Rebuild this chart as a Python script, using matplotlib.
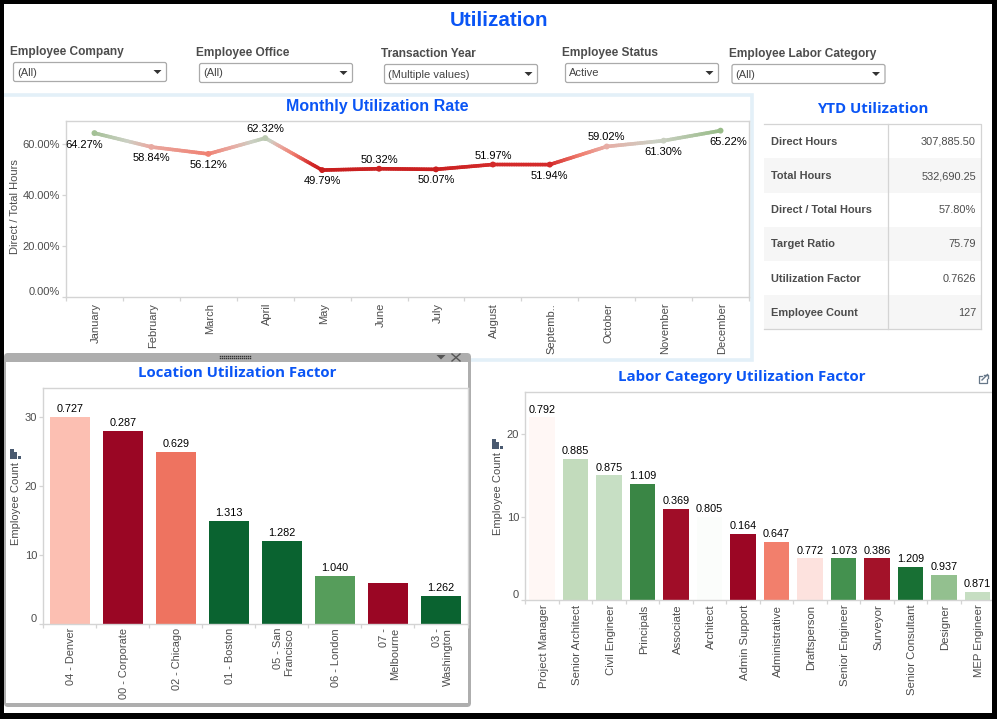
import numpy as np
import matplotlib
matplotlib.use('Agg')
import matplotlib.pyplot as plt
from matplotlib.collections import LineCollection
from matplotlib.colors import LinearSegmentedColormap, Normalize
from matplotlib.patches import Rectangle, FancyBboxPatch, Polygon
from matplotlib.transforms import ScaledTranslation

plt.rcParams['font.family'] = ['Liberation Sans', 'DejaVu Sans']

months = ['January', 'February', 'March', 'April', 'May', 'June', 'July', 'August',
          'Septemb..', 'October', 'November', 'December']
rates = [64.27, 58.84, 56.12, 62.32, 49.79, 50.32, 50.07, 51.97, 51.94, 59.02, 61.30, 65.22]

locations = ['04 - Denver', '00 - Corporate', '02 - Chicago', '01 - Boston',
             '05 - San\nFrancisco', '06 - London', '07 -\nMelbourne', '03 -\nWashington']
location_counts = [30, 28, 25, 15, 12, 7, 6, 4]
location_factors = ['0.727', '0.287', '0.629', '1.313', '1.282', '1.040', '', '1.262']
location_colors = ['#fcbfb2', '#9a0624', '#ee7360', '#0a6330', '#0a6330', '#569d5b', '#9a0624', '#0a6330']

labor = ['Project Manager', 'Senior Architect', 'Civil Engineer', 'Principals', 'Associate',
         'Architect', 'Admin Support', 'Administrative', 'Draftsperson', 'Senior Engineer',
         'Surveyor', 'Senior Consultant', 'Designer', 'MEP Engineer']
labor_counts = [22, 17, 15, 14, 11, 10, 8, 7, 5, 5, 5, 4, 3, 1]
labor_factors = ['0.792', '0.885', '0.875', '1.109', '0.369', '0.805', '0.164', '0.647',
                 '0.772', '1.073', '0.386', '1.209', '0.937', '0.871']
labor_colors = ['#fff7f5', '#c2dbbc', '#c7dfc4', '#3a8645', '#a00d28', '#fbfdfb', '#9b0624', '#f27f6c',
                '#fde2de', '#44914f', '#a31229', '#187034', '#93c08f', '#c6dec2']

ytd_names = ['Direct Hours', 'Total Hours', 'Direct / Total Hours', 'Target Ratio',
             'Utilization Factor', 'Employee Count']
ytd_values = ['307,885.50', '532,690.25', '57.80%', '75.79', '0.7626', '127']

filters = [('Employee Company', '(All)'), ('Employee Office', '(All)'),
           ('Transaction Year', '(Multiple values)'), ('Employee Status', 'Active'),
           ('Employee Labor Category', '(All)')]

# layout in pixels
W, H = 997, 719
BLUE = '#0a55f5'; GREY = '#4c4c4c'; RULE = '#d4d4d4'; TFONT = 'Open Sans'
fig = plt.figure(figsize=(W / 100, H / 100), dpi=100, facecolor='white')


def axpx(x0, y0, x1, y1, z):
    return fig.add_axes([x0 / W, 1 - y1 / H, (x1 - x0) / W, (y1 - y0) / H], zorder=z)


bg = axpx(0, 0, W, H, 0)
bg.set_xlim(0, W); bg.set_ylim(H, 0); bg.axis('off')
top = axpx(0, 0, W, H, 10)
top.set_xlim(0, W); top.set_ylim(H, 0); top.axis('off'); top.patch.set_alpha(0)


def px(a, x0, y0, x1, y1, **kw):
    a.add_patch(Rectangle((x0, y0), x1 - x0, y1 - y0, lw=kw.pop('lw', 0), **kw))


# black border
for r in [(0, 0, W, 4), (0, 713, W, H), (0, 0, 4, H), (992, 0, W, H)]:
    px(top, *r, fc='black')

bg.text(499, 20.5, 'Utilization', color=BLUE, fontsize=14.8, fontweight='bold', ha='center', va='center')

# filters
flt_x = [10, 196, 381, 562, 728.5]
flt_y = [50.5, 51.5, 52.5, 51.5, 52.5]
for (name, val), x, y in zip(filters, flt_x, flt_y):
    bg.text(x, y + 1.3, name, color=GREY, fontsize=8.6, fontweight='bold', ha='left', va='center')
    b0 = x + 3.5; by = y + 12
    bg.add_patch(FancyBboxPatch((b0 + 1, by + 1), 151, 17, boxstyle='round,pad=1,rounding_size=2',
                                fc='white', ec='#aaaaaa', lw=0.9))
    bg.text(b0 + 3.5, by + 10, val, color='#444444', fontsize=8, va='center', ha='left')
    bg.add_patch(Polygon([(b0 + 140, by + 7.5), (b0 + 148, by + 7.5), (b0 + 144, by + 11.5)], fc='#333333'))

# line chart frame
bg.add_patch(Rectangle((1.75, 94.75), 749.75, 264.75, fc='white', ec='#e3f0f8', lw=2.6))
bg.text(377, 106.5, 'Monthly Utilization Rate', color=BLUE, fontsize=11.5, fontweight='bold',
        ha='center', va='center')


def style(ax, xs, labels, lab_size, yt, ylab_fmt, pad=4.0):
    ax.set_xlim(0, len(xs))
    ax.set_xticks(np.arange(len(xs)) + 0.5)
    ax.set_xticklabels(labels, rotation=90, fontsize=lab_size, color=GREY, va='top', ha='center',
                       multialignment='right')
    ax.set_xticks(np.arange(len(xs) + 1), minor=True)
    ax.tick_params(axis='x', which='major', length=0, pad=pad)
    ax.tick_params(axis='x', which='minor', length=3, color=RULE, width=0.9)
    shift = ScaledTranslation(1.5 / 100, 0, fig.dpi_scale_trans)
    for t in ax.get_xticklabels():
        t.set_transform(t.get_transform() + shift)
    ax.set_yticks(yt)
    ax.set_yticklabels([ylab_fmt(v) for v in yt], fontsize=8, color=GREY)
    ax.tick_params(axis='y', length=3, color=RULE, width=0.9, pad=1.5)
    ax.get_yticklabels()[0].set_verticalalignment('bottom')
    for s in ax.spines.values():
        s.set_color(RULE); s.set_linewidth(1.0)


# monthly line
ax1 = axpx(66, 121, 749, 297.3, 2)
style(ax1, months, months, 8, [0, 20, 40, 60], lambda v: f'{v:.2f}%')
ax1.set_ylim(0, 69)
x_m = np.arange(len(months)) + 0.5
nodes = [(49.8, '#c81e1e'), (52, '#d42a2a'), (56, '#f07f70'), (59, '#e8aca4'), (61, '#ccd0c4'), (65.3, '#98bc88')]
lo, hi = nodes[0][0], nodes[-1][0]
cmap = LinearSegmentedColormap.from_list('util', [((v - lo) / (hi - lo), c) for v, c in nodes])
norm = Normalize(lo, hi)
segs, vals = [], []
for i in range(len(months) - 1):
    ts = np.linspace(0, 1, 25)
    xx = x_m[i] + (x_m[i + 1] - x_m[i]) * ts
    yy = rates[i] + (rates[i + 1] - rates[i]) * ts
    for j in range(len(ts) - 1):
        segs.append([(xx[j], yy[j]), (xx[j + 1], yy[j + 1])])
        vals.append((yy[j] + yy[j + 1]) / 2)
ax1.add_collection(LineCollection(segs, colors=cmap(norm(vals)), linewidths=2.6, capstyle='round', zorder=2))
ax1.scatter(x_m, rates, c=cmap(norm(rates)), s=18, zorder=3, lw=0)
offs = [(-10, 12), (0, 11), (0, 11), (0, -9), (0, 11), (0, -9), (0, 11), (0, -9), (0, 11), (0, -9), (0, 11), (8, 11)]
for x, v, (dx, dy) in zip(x_m, rates, offs):
    ax1.annotate(f'{v:.2f}%', (x, v), xytext=(dx * .72, -dy * .72), textcoords='offset points',
                 ha='center', va='center', fontsize=8, color='black', zorder=4, annotation_clip=False)
fig.text(15 / W, 1 - 207 / H, 'Direct / Total Hours', rotation=90, color=GREY, fontsize=8, ha='center', va='center')

# YTD table
bg.text(872.5, 109, 'YTD Utilization', color=BLUE, fontsize=10.8, fontweight='bold', family=TFONT, ha='center', va='center')
tx0, tx1, ty0, ty1, tdiv = 764, 981, 124.3, 329.3, 888.3
rh = (ty1 - ty0) / len(ytd_names)
for i, (n, v) in enumerate(zip(ytd_names, ytd_values)):
    y = ty0 + i * rh
    if i % 2:
        px(bg, tx0, y, tx1, y + rh, fc='#f6f6f6')
    bg.text(770.5, y + rh / 2 + 0.5, n, color=GREY, fontsize=7.9, fontweight='bold', ha='left', va='center')
    bg.text(976, y + rh / 2 + 0.5, v, color=GREY, fontsize=7.9, ha='right', va='center')
bg.plot([tx0, tx1, tx1], [ty0, ty0, ty1], color=RULE, lw=0.9)
bg.plot([tx0, tx1], [ty1, ty1], color=RULE, lw=0.9)
bg.plot([tdiv, tdiv], [ty0, ty1], color=RULE, lw=0.9)


def bars(ax, names, counts, factors, colors, size, yt, ytop, wid, off, pad):
    style(ax, names, names, size, yt, lambda v: f'{v}', pad)
    ax.set_ylim(0, ytop)
    xs = np.arange(len(names)) + 0.5
    ax.bar(xs, counts, width=wid, color=colors, zorder=2)
    for x, c, f in zip(xs, counts, factors):
        ax.annotate(f, (x, c), xytext=(0, off), textcoords='offset points', ha='center', va='center',
                    fontsize=7.8, color='black', annotation_clip=False)


def glyph(x, y):
    for dx, h, w in [(0, 10, 3.5), (4, 7, 3), (8, 3, 3)]:
        px(bg, x + dx, y + 10 - h, x + dx + w, y + 10, fc='#4a5a70')


# location panel
bg.add_patch(FancyBboxPatch((8, 357), 459, 346, boxstyle='round,pad=4,rounding_size=4', fc='#aeaeae', lw=0))
px(bg, 6, 362, 468, 703, fc='white')
px(bg, 4, 707, 471, 713, fc='white')
for gx in np.arange(220, 252, 2):
    for gy in (356, 358):
        bg.plot([gx], [gy], marker='s', ms=1.0, color='#333333', mew=0)
bg.add_patch(Polygon([(436.5, 355), (445.5, 355), (441, 359.5)], fc='#555555'))
bg.plot([452, 460], [354, 361], color='#555555', lw=1)
bg.plot([452, 460], [361, 354], color='#555555', lw=1)
bg.text(237, 373, 'Location Utilization Factor', color=BLUE, fontsize=10.8, fontweight='bold', family=TFONT,
        ha='center', va='center')
ax2 = axpx(43.3, 388.3, 467.5, 624, 2)
bars(ax2, locations, location_counts, location_factors, location_colors, 7.9, [0, 10, 20, 30], 34.2, 0.755, 5.8, 2.8)
glyph(10, 449)
fig.text(16 / W, 1 - 504 / H, 'Employee Count', rotation=90, color=GREY, fontsize=8, ha='center', va='center', zorder=5)

# labor chart
bg.text(741.5, 377, 'Labor Category Utilization Factor', color=BLUE, fontsize=10.8, fontweight='bold', family=TFONT,
        ha='center', va='center')
ax3 = axpx(525.3, 392.3, 994.3, 600, 2)
bars(ax3, labor, labor_counts, labor_factors, labor_colors, 8.2, [0, 10, 20], 25.02, 0.75, 5.6, 3.4)
glyph(492, 439)
fig.text(498 / W, 1 - 494 / H, 'Employee Count', rotation=90, color=GREY, fontsize=8, ha='center', va='center', zorder=5)
# pop-out icon
bg.plot([982, 978.5, 978.5, 987, 987], [375.5, 375.5, 382.5, 382.5, 379], color='#667788', lw=0.9)
bg.plot([982, 987.5], [380, 374.5], color='#667788', lw=1)
bg.plot([984, 987.5, 987.5], [374.5, 374.5, 378], color='#667788', lw=1)

fig.savefig('out.png', dpi=100, facecolor='white')
